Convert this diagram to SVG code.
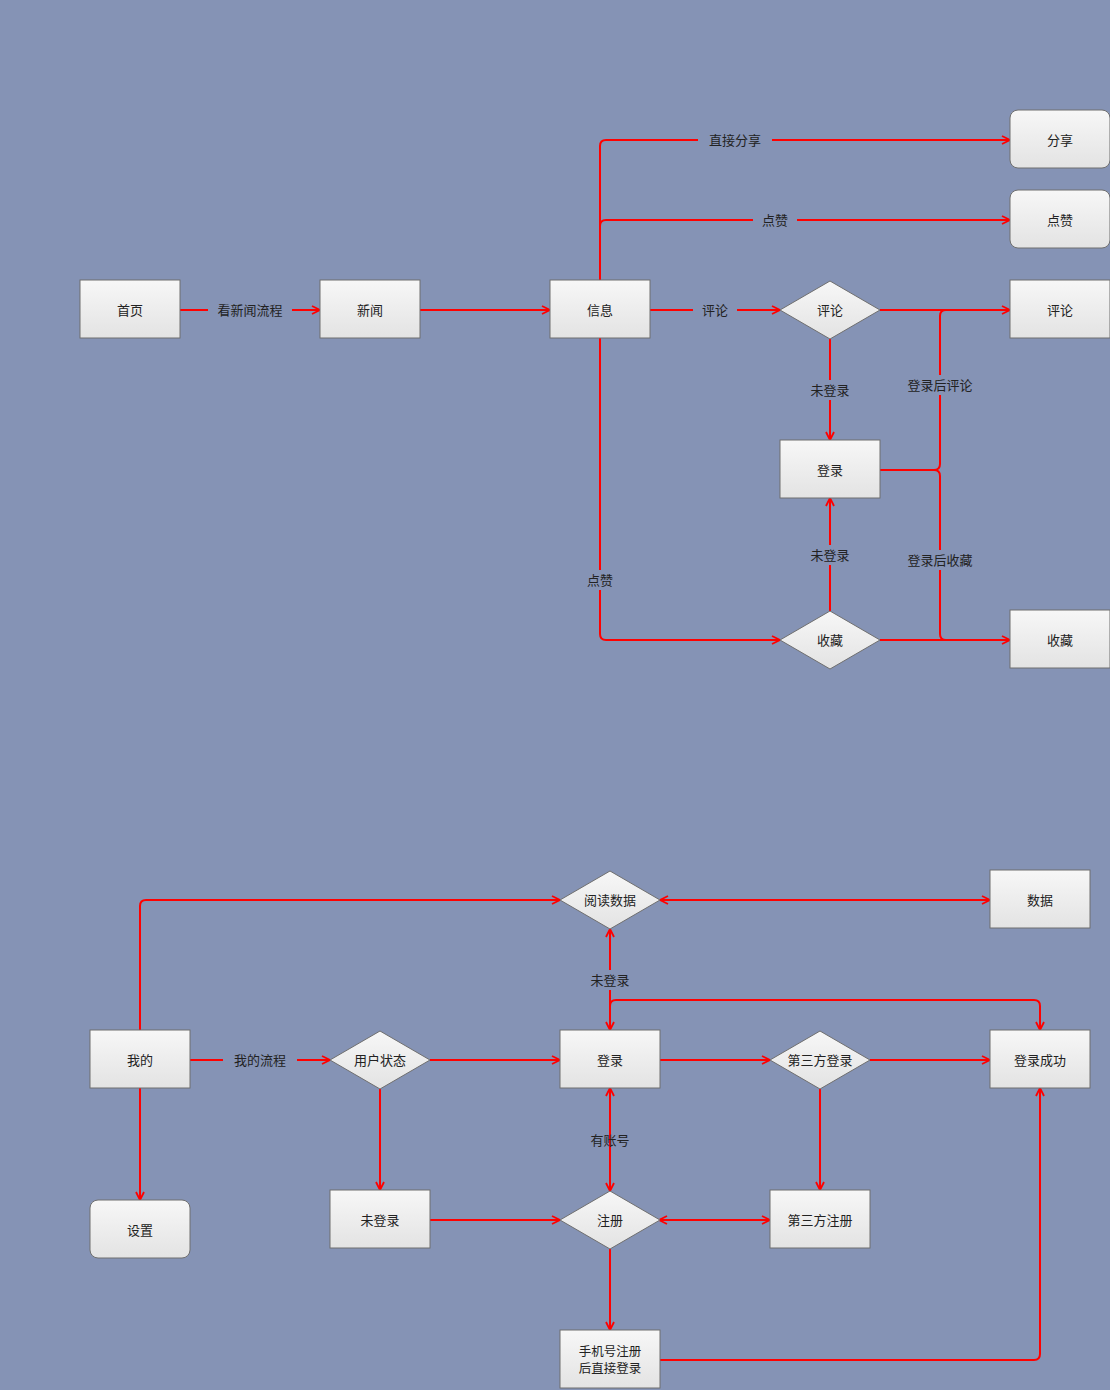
<svg xmlns="http://www.w3.org/2000/svg" width="1110" height="1390" viewBox="0 0 1110 1390">
<defs>
<linearGradient id="g" x1="0" y1="0" x2="0" y2="1"><stop offset="0" stop-color="#f7f7f7"/><stop offset="1" stop-color="#e3e3e3"/></linearGradient>
<marker id="a" viewBox="0 0 10 10" refX="9" refY="5" markerWidth="10" markerHeight="10" markerUnits="userSpaceOnUse" orient="auto-start-reverse"><path d="M1,1 L9,5 L1,9" fill="none" stroke="#ff0000" stroke-width="1.8"/></marker>
<style>
.n{fill:url(#g);stroke:#6f6f6f;stroke-width:1}
.t{font-family:"Noto Sans CJK SC","Liberation Sans",sans-serif;font-size:13px;fill:#222;text-anchor:middle;dominant-baseline:central}
.c{fill:none;stroke:#ff0000;stroke-width:2;stroke-linejoin:round}
.e{marker-end:url(#a)}
.b{marker-start:url(#a);marker-end:url(#a)}
.lb{fill:#8593b5}
</style>
</defs>
<rect width="1110" height="1390" fill="#8593b5"/>
<g id="connectors">
<path class="c e" d="M180,310 H320"/>
<path class="c e" d="M420,310 H550"/>
<path class="c e" d="M600,280 V146 Q600,140 606,140 H1010"/>
<path class="c e" d="M600,226 Q600,220 606,220 H1010"/>
<path class="c e" d="M650,310 H780"/>
<path class="c e" d="M880,310 H1010"/>
<path class="c e" d="M830,339 V440"/>
<path class="c" d="M880,470 H934 Q940,470 940,464 V316 Q940,310 946,310"/>
<path class="c" d="M934,470 Q940,470 940,476 V634 Q940,640 946,640"/>
<path class="c e" d="M600,338 V634 Q600,640 606,640 H780"/>
<path class="c e" d="M830,611 V498"/>
<path class="c e" d="M880,640 H1010"/>
<path class="c e" d="M140,1030 V906 Q140,900 146,900 H560"/>
<path class="c b" d="M660,900 H990"/>
<path class="c e" d="M610,1030 V929"/>
<path class="c b" d="M610,1030 V1006 Q610,1000 616,1000 H1034 Q1040,1000 1040,1006 V1030"/>
<path class="c e" d="M190,1060 H330"/>
<path class="c e" d="M430,1060 H560"/>
<path class="c e" d="M380,1089 V1190"/>
<path class="c e" d="M140,1088 V1200"/>
<path class="c e" d="M660,1060 H770"/>
<path class="c e" d="M870,1060 H990"/>
<path class="c e" d="M820,1089 V1190"/>
<path class="c e" d="M430,1220 H560"/>
<path class="c b" d="M610,1088 V1191"/>
<path class="c b" d="M659,1220 H770"/>
<path class="c e" d="M610,1249 V1330"/>
<path class="c e" d="M660,1360 H1034 Q1040,1360 1040,1354 V1088"/>
<rect class="lb" x="208" y="300" width="84" height="20"/><text class="t" x="250" y="309">看新闻流程</text>
<rect class="lb" x="698" y="130" width="74" height="20"/><text class="t" x="735" y="139">直接分享</text>
<rect class="lb" x="753" y="210" width="44" height="20"/><text class="t" x="775" y="219">点赞</text>
<rect class="lb" x="693" y="300" width="44" height="20"/><text class="t" x="715" y="309">评论</text>
<rect class="lb" x="803" y="380" width="54" height="20"/><text class="t" x="830" y="389">未登录</text>
<rect class="lb" x="903" y="375" width="74" height="20"/><text class="t" x="940" y="384">登录后评论</text>
<rect class="lb" x="803" y="545" width="54" height="20"/><text class="t" x="830" y="554">未登录</text>
<rect class="lb" x="903" y="550" width="74" height="20"/><text class="t" x="940" y="559">登录后收藏</text>
<rect class="lb" x="580" y="570" width="40" height="20"/><text class="t" x="600" y="579">点赞</text>
<rect class="lb" x="583" y="970" width="54" height="20"/><text class="t" x="610" y="979">未登录</text>
<rect class="lb" x="223" y="1050" width="74" height="20"/><text class="t" x="260" y="1059">我的流程</text>
<text class="t" x="610" y="1139">有账号</text>
</g>
<g id="n1"><rect class="n" x="80" y="280" width="100" height="58"/><text class="t" x="130" y="309">首页</text></g>
<g id="n2"><rect class="n" x="320" y="280" width="100" height="58"/><text class="t" x="370" y="309">新闻</text></g>
<g id="n3"><rect class="n" x="550" y="280" width="100" height="58"/><text class="t" x="600" y="309">信息</text></g>
<g id="n4"><polygon class="n" points="830,281 880,310 830,339 780,310"/><text class="t" x="830" y="309">评论</text></g>
<g id="n5"><rect class="n" x="1010" y="280" width="100" height="58"/><text class="t" x="1060" y="309">评论</text></g>
<g id="n6"><rect class="n" x="1010" y="110" width="100" height="58" rx="8"/><text class="t" x="1060" y="139">分享</text></g>
<g id="n7"><rect class="n" x="1010" y="190" width="100" height="58" rx="8"/><text class="t" x="1060" y="219">点赞</text></g>
<g id="n8"><rect class="n" x="780" y="440" width="100" height="58"/><text class="t" x="830" y="469">登录</text></g>
<g id="n9"><polygon class="n" points="830,611 880,640 830,669 780,640"/><text class="t" x="830" y="639">收藏</text></g>
<g id="n10"><rect class="n" x="1010" y="610" width="100" height="58"/><text class="t" x="1060" y="639">收藏</text></g>
<g id="m1"><polygon class="n" points="610,871 660,900 610,929 560,900"/><text class="t" x="610" y="899">阅读数据</text></g>
<g id="m2"><rect class="n" x="990" y="870" width="100" height="58"/><text class="t" x="1040" y="899">数据</text></g>
<g id="m3"><rect class="n" x="90" y="1030" width="100" height="58"/><text class="t" x="140" y="1059">我的</text></g>
<g id="m4"><polygon class="n" points="380,1031 430,1060 380,1089 330,1060"/><text class="t" x="380" y="1059">用户状态</text></g>
<g id="m5"><rect class="n" x="560" y="1030" width="100" height="58"/><text class="t" x="610" y="1059">登录</text></g>
<g id="m6"><polygon class="n" points="820,1031 870,1060 820,1089 770,1060"/><text class="t" x="820" y="1059">第三方登录</text></g>
<g id="m7"><rect class="n" x="990" y="1030" width="100" height="58"/><text class="t" x="1040" y="1059">登录成功</text></g>
<g id="m8"><rect class="n" x="90" y="1200" width="100" height="58" rx="8"/><text class="t" x="140" y="1229">设置</text></g>
<g id="m9"><rect class="n" x="330" y="1190" width="100" height="58"/><text class="t" x="380" y="1219">未登录</text></g>
<g id="m10"><polygon class="n" points="610,1191 660,1220 610,1249 560,1220"/><text class="t" x="610" y="1219">注册</text></g>
<g id="m11"><rect class="n" x="770" y="1190" width="100" height="58"/><text class="t" x="820" y="1219">第三方注册</text></g>
<g id="m12"><rect class="n" x="560" y="1330" width="100" height="58"/><text class="t" x="610" y="1350" style="font-size:12.5px">手机号注册</text><text class="t" x="610" y="1367" style="font-size:12.5px">后直接登录</text></g>
</svg>
